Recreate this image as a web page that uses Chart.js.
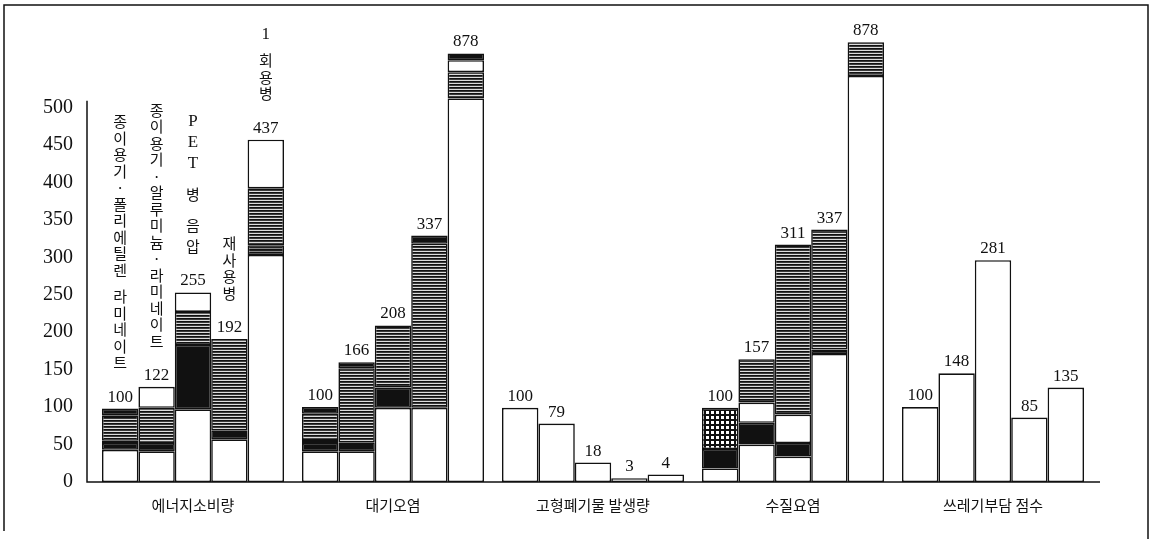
<!DOCTYPE html>
<html>
<head>
<meta charset="utf-8">
<script src="https://cdn.jsdelivr.net/npm/chart.js@4.4.0/dist/chart.umd.min.js"></script>
<style>
  html, body { margin: 0; padding: 0; background: #fff; }
  #wrap { position: relative; width: 1152px; height: 539px; overflow: hidden; }
  canvas { display: block; }
</style>
</head>
<body>
<div id="wrap"><canvas id="chart" width="1152" height="539"></canvas></div>
<script>
var categories = ["에너지소비량", "대기오염", "고형폐기물 발생량", "수질요염", "쓰레기부담 점수"];
var products = ["종이용기·폴리에틸렌 라미네이트", "종이용기·알루미늄·라미네이트", "PET 병 음압", "재사용병", "1 회용병"];
var yTicks = [0, 50, 100, 150, 200, 250, 300, 350, 400, 450, 500];

// numbers printed over the bars (rows = categories, columns = products)
var totals = [
    [100, 122, 255, 192, 437],
    [100, 166, 208, 337, 878],
    [100, 79, 18, 3, 4],
    [100, 157, 311, 337, 878],
    [100, 148, 281, 85, 135]
];

// stacked segments as drawn, bottom to top (null = no segment)
var whiteBase = [
    [43, 41, 97, 57, 303],
    [41, 41, 99, 99, 512],
    [99, 78, 26, 5, 10],
    [18, 50, 34, 171, 542],
    [100, 145, 296, 86, 126]
];
var darkBand = [
    [null, null, null, null, 13],
    [null, null, null, null, null],
    [null, null, null, null, null],
    [null, null, null, null, null],
    [null, null, null, null, null]
];
var blackLow = [
    [9, 11, 86, 12, null],
    [11, 12, 27, null, null],
    [null, null, null, null, null],
    [26, 29, 18, 6, null],
    [null, null, null, null, null]
];
var whiteMid = [
    [3, null, null, null, null],
    [4, null, null, null, null],
    [null, null, null, null, null],
    [null, 27, 38, null, null],
    [null, null, null, null, null]
];
var gridBand = [
    [null, null, null, null, null],
    [null, null, null, null, null],
    [null, null, null, null, null],
    [55, null, null, null, null],
    [null, null, null, null, null]
];
var hatched = [
    [34, 47, 44, 122, 76],
    [35, 99, 83, 219, 35],
    [null, null, null, null, null],
    [null, 58, 227, 160, 45],
    [null, null, null, null, null]
];
var blackTop = [
    [9, null, null, null, null],
    [9, 8, null, 11, null],
    [null, null, null, null, null],
    [null, null, null, null, null],
    [null, null, null, null, null]
];
var whiteTop = [
    [null, 28, 26, null, 65],
    [null, null, null, null, 16],
    [null, null, null, null, null],
    [null, null, null, null, null],
    [null, null, null, null, null]
];
var blackCap = [
    [null, null, null, null, null],
    [null, null, null, null, 9],
    [null, null, null, null, null],
    [null, null, null, null, null],
    [null, null, null, null, null]
];

//Fill patterns
function makeHatch(dark)
{
    var c = document.createElement("canvas");
    c.width = 6; c.height = 3;
    var x = c.getContext("2d");
    x.fillStyle = dark ? "#888" : "#dcdcdc"; x.fillRect(0, 0, 6, 3);
    x.fillStyle = "#111"; x.fillRect(0, 0, 6, 1);
    x.fillStyle = dark ? "#222" : "#3a3a3a"; x.fillRect(0, 1, 6, 1);
    return x.createPattern(c, "repeat");
}
function makeGrid()
{
    var c = document.createElement("canvas");
    c.width = 5; c.height = 5;
    var x = c.getContext("2d");
    x.fillStyle = "#111"; x.fillRect(0, 0, 5, 5);
    x.fillStyle = "#fff"; x.fillRect(1, 1, 3, 3);
    return x.createPattern(c, "repeat");
}

var layers = [
    {data: whiteBase, fill: "#fff"},
    {data: darkBand, fill: makeHatch(true)},
    {data: blackLow, fill: "#111"},
    {data: whiteMid, fill: "#fff"},
    {data: gridBand, fill: makeGrid()},
    {data: hatched, fill: makeHatch(false)},
    {data: blackTop, fill: "#111"},
    {data: whiteTop, fill: "#fff"},
    {data: blackCap, fill: "#111"}
];

var datasets = [];
products.forEach(function(name, p) {
    layers.forEach(function(layer, li) {
        datasets.push({
            label: name + " " + li,
            stack: "p" + p,
            data: categories.map(function(c, ci) { return layer.data[ci][p]; }),
            backgroundColor: layer.fill,
            borderColor: "#111",
            borderWidth: 1.6,
            borderSkipped: false
        });
    });
});

function barSum(ci, p)
{
    var s = 0;
    layers.forEach(function(l) { if (l.data[ci][p] != null) s += l.data[ci][p]; });
    return s;
}

var decorPlugin = {
    id: "decor",
    beforeDraw: function(chart) {
        var ctx = chart.ctx;
        ctx.save();
        ctx.fillStyle = "#fff";
        ctx.fillRect(0, 0, chart.width, chart.height);
        ctx.restore();
    },
    afterDraw: function(chart) {
        var ctx = chart.ctx;
        var area = chart.chartArea;
        var y = chart.scales.y;
        ctx.save();

        //Axis lines
        ctx.strokeStyle = "#111";
        ctx.lineWidth = 1.5;
        ctx.beginPath();
        ctx.moveTo(area.left - 6, y.getPixelForValue(509));
        ctx.lineTo(area.left - 6, area.bottom);
        ctx.lineTo(area.right + 7, area.bottom);
        ctx.stroke();

        //Frame
        ctx.beginPath();
        ctx.moveTo(4, 531); ctx.lineTo(4, 5); ctx.lineTo(1148, 5); ctx.lineTo(1148, 539);
        ctx.stroke();

        //Numbers above bars
        ctx.fillStyle = "#111";
        ctx.font = '17px "Liberation Serif"';
        ctx.textAlign = "center";
        ctx.textBaseline = "alphabetic";
        var tops = [];
        categories.forEach(function(c, ci) {
            tops.push([]);
            products.forEach(function(name, p) {
                var bar = chart.getDatasetMeta(p * layers.length).data[ci];
                var top = Math.max(y.getPixelForValue(barSum(ci, p)), area.top);
                tops[ci].push({x: bar.x, top: top});
                ctx.fillText(String(totals[ci][p]), bar.x, top - 7);
            });
        });

        //Vertical product names over the first group
        ctx.textBaseline = "middle";
        products.forEach(function(name, p) {
            var t = tops[0][p];
            var pitch = p === 2 ? 21 : 16.5;
            var cy = t.top - 46;
            var chars = name.split("");
            for (var i = chars.length - 1; i >= 0; i--) {
                var ch = chars[i];
                if (ch === " ") { cy -= 10; continue; }
                if (/[A-Za-z0-9]/.test(ch)) ctx.font = '17px "Liberation Serif"';
                else ctx.font = '15px "Noto Sans CJK KR"';
                ctx.fillText(ch, t.x, cy);
                cy -= pitch;
            }
        });
        ctx.restore();
    }
};

new Chart(document.getElementById("chart"), {
    type: "bar",
    data: {labels: categories, datasets: datasets},
    options: {
        responsive: false,
        animation: false,
        devicePixelRatio: 1,
        categoryPercentage: 0.91,
        barPercentage: 1.0,
        layout: {padding: {top: 40, right: 59, left: 0, bottom: 0}},
        plugins: {legend: {display: false}, tooltip: {enabled: false}},
        scales: {
            x: {
                stacked: true,
                grid: {display: false, drawTicks: false},
                border: {display: false},
                ticks: {color: "#111", padding: 14, font: {family: "Noto Sans CJK KR", size: 15}},
                afterFit: function(s) { s.height = 57; }
            },
            y: {
                stacked: true,
                min: 0,
                max: 590,
                grid: {display: false, drawTicks: false},
                border: {display: false},
                ticks: {color: "#111", padding: 20, font: {family: "Liberation Serif", size: 20}},
                afterBuildTicks: function(s) { s.ticks = yTicks.map(function(v) { return {value: v}; }); },
                afterFit: function(s) { s.width = 93; }
            }
        }
    },
    plugins: [decorPlugin]
});
</script>
</body>
</html>
